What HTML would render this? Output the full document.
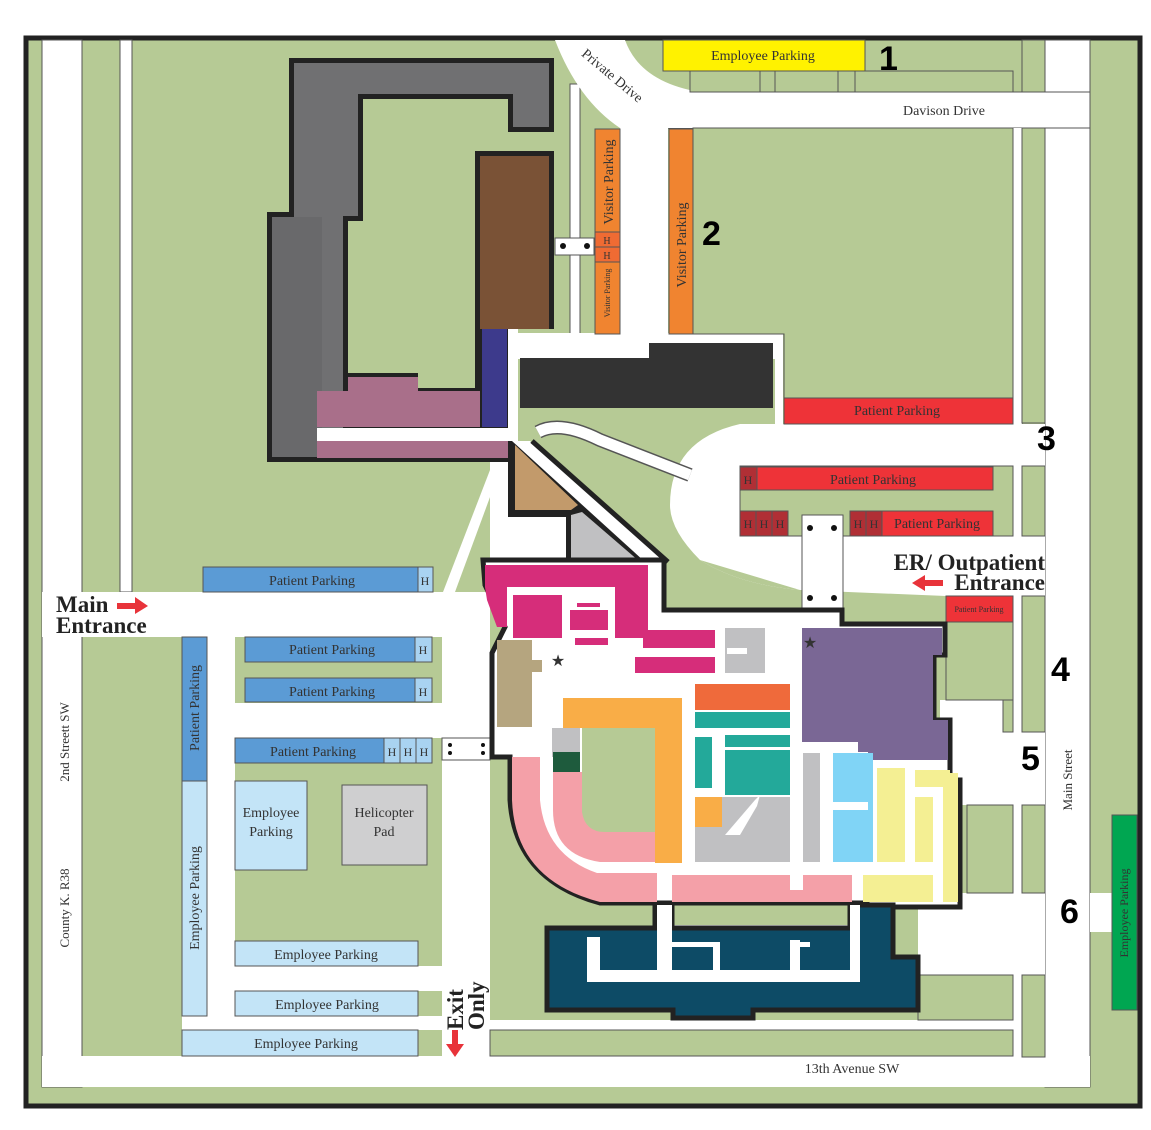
<!DOCTYPE html>
<html><head><meta charset="utf-8"><style>
html,body{margin:0;padding:0;background:#fff;}
svg{display:block;}
text{font-family:"Liberation Serif",serif;fill:#333;}
.n{font-family:"Liberation Sans",sans-serif;font-weight:bold;fill:#000;font-size:34px;}
.p{font-size:14px;text-anchor:middle;}
.b{font-weight:bold;font-size:23px;fill:#222;}
</style></head><body>
<svg width="1151" height="1130" viewBox="0 0 1151 1130" xmlns="http://www.w3.org/2000/svg">
<rect width="1151" height="1130" fill="#fff"/>
<rect x="26" y="38" width="1114" height="1068" fill="#b6ca95" stroke="#222" stroke-width="5"/>
<g fill="#fff" stroke="#555" stroke-width="1">
<rect x="42" y="40" width="40" height="1047"/>
<rect x="120" y="40" width="12" height="552"/>
<rect x="1045" y="40" width="45" height="1047"/>
<rect x="1013" y="128" width="9" height="930"/>
<rect x="640" y="92" width="450" height="36"/>
<rect x="570" y="84" width="10" height="252"/>
</g>
<g fill="#fff">
<rect x="42" y="592" width="448" height="45"/>
<rect x="207" y="637" width="28" height="393"/>
<rect x="235" y="703" width="207" height="35"/>
<rect x="235" y="966" width="207" height="25"/>
<rect x="182" y="1016" width="260" height="14"/>
<rect x="442" y="592" width="48" height="464"/>
<rect x="42" y="1056" width="1048" height="31"/>
<rect x="83" y="1057" width="1006" height="29"/>
<rect x="1013" y="128" width="9" height="930"/>
<rect x="518" y="333" width="265" height="26"/>
<rect x="775" y="343" width="8" height="81"/>
<rect x="940" y="700" width="105" height="105"/>
<rect x="918" y="893" width="127" height="82"/>
<rect x="1090" y="893" width="22" height="39"/>
<rect x="490" y="1020" width="523" height="10"/>
<path d="M555,40 L625,40 Q640,82 700,92 L700,128 L668,128 L668,336 L620,336 L620,128 Q578,100 555,40 Z"/>
<path d="M740,424 H1045 V466 H740 Z M740,536 H1045 V596 H946 L800,590 Q740,585 700,560 Q670,530 670,505 Q670,440 740,424 Z"/>
<path d="M490,441 H515 V590 H490 Z"/>
<path d="M490,470 L500,470 L455,592 L443,592 Z"/>
</g>
<path d="M538,432 Q560,420 600,440 L690,475" fill="none" stroke="#555" stroke-width="14"/>
<path d="M538,432 Q560,420 600,440 L690,475" fill="none" stroke="#fff" stroke-width="11"/>
<!-- green blocks -->
<g fill="#b6ca95" stroke="#555" stroke-width="1">
<path d="M693,128 H1013 V398 H784 V334 H693 Z"/>
<rect x="740" y="466" width="273" height="70"/>
<rect x="946" y="622" width="67" height="78"/>
<rect x="1003" y="700" width="10" height="32"/>
<rect x="967" y="805" width="46" height="88"/>
<rect x="1022" y="128" width="23" height="295"/>
<rect x="1022" y="466" width="23" height="70"/>
<rect x="1022" y="596" width="23" height="136"/>
<rect x="1022" y="805" width="23" height="88"/>
<rect x="1022" y="975" width="23" height="82"/>
<rect x="918" y="975" width="95" height="45"/>
<rect x="490" y="1030" width="523" height="26"/>
<rect x="690" y="71" width="70" height="21"/>
<rect x="775" y="71" width="63" height="21"/>
<rect x="855" y="71" width="158" height="21"/>
<rect x="1022" y="40" width="23" height="52"/>
</g>
<path d="M700,560 Q740,585 800,590 L946,598 L946,622 L945,624 H842 V610 H800 V590 Z" fill="#b6ca95"/>
<!-- top-left gray building -->
<path d="M289,58 H554 V132 H508 V99 H363 V221 H348 V373 H418 V388 H475 V151 H554 V329 H518 V441 H515 V462 H267 V212 H289 Z" fill="#222"/>
<path d="M294,63 H549 V127 H513 V94 H358 V216 H343 V457 H272 V217 H294 Z" fill="#707072"/>
<rect x="272" y="217" width="50" height="240" fill="#69696b"/>
<path d="M317,391 H348 V377 H418 V391 H480 V427 H317 Z" fill="#a96f8a"/>
<rect x="317" y="428" width="200" height="13" fill="#fff"/>
<rect x="317" y="441" width="198" height="17" fill="#a96f8a"/>
<rect x="480" y="156" width="69" height="173" fill="#7a5236"/>
<rect x="482" y="329" width="25" height="98" fill="#3d3a8c"/>
<rect x="508" y="329" width="10" height="112" fill="#fff"/>
<!-- black building -->
<path d="M520,358 H649 V343 H773 V408 H520 Z" fill="#333"/>
<!-- tan/gray triangles + diagonal road -->
<path d="M508,441 L515,441 L650,562 L508,562 Z" fill="#222"/>
<path d="M515,445 L578,505 L571,510 L515,510 Z" fill="#c29a6b"/>
<path d="M571,515 L582,512 L640,562 L571,562 Z" fill="#c0c0c2"/>
<rect x="513" y="517" width="53" height="45" fill="#fff"/>
<rect x="490" y="517" width="23" height="45" fill="#fff"/>
<path d="M512,441 L530,441 L666,562 L645,562 Z" fill="#fff"/>
<path d="M532,441 L668,562" stroke="#222" stroke-width="5" fill="none"/>
<!-- orange visitor -->
<rect x="595" y="129" width="25" height="205" fill="#f08430" stroke="#555"/>
<rect x="595" y="232" width="25" height="15" fill="#ef6b33" stroke="#555"/>
<rect x="595" y="247" width="25" height="15" fill="#ef6b33" stroke="#555"/>
<rect x="669" y="129" width="24" height="205" fill="#f08430" stroke="#555"/>
<rect x="555" y="238" width="39" height="17" fill="#fff" stroke="#555"/>
<circle cx="563" cy="246" r="3" fill="#111"/><circle cx="587" cy="246" r="3" fill="#111"/>
<rect x="663" y="40" width="202" height="31" fill="#fff200" stroke="#555"/>
<!-- right red parking -->
<g stroke="#555" stroke-width="1">
<rect x="784" y="398" width="229" height="26" fill="#ee3338"/>
<rect x="757" y="467" width="236" height="23" fill="#ee3338"/>
<rect x="740" y="467" width="17" height="23" fill="#b02f35"/>
<rect x="740" y="511" width="16" height="25" fill="#b02f35"/>
<rect x="756" y="511" width="16" height="25" fill="#b02f35"/>
<rect x="772" y="511" width="16" height="25" fill="#b02f35"/>
<rect x="850" y="511" width="16" height="25" fill="#b02f35"/>
<rect x="866" y="511" width="16" height="25" fill="#b02f35"/>
<rect x="882" y="511" width="111" height="25" fill="#ee3338"/>
<rect x="946" y="596" width="67" height="26" fill="#ee3338"/>
<rect x="802" y="515" width="41" height="93" fill="#fff"/>
<rect x="1112" y="815" width="25" height="195" fill="#00a651"/>
</g>
<circle cx="810" cy="528" r="3" fill="#111"/><circle cx="834" cy="528" r="3" fill="#111"/>
<circle cx="810" cy="598" r="3" fill="#111"/><circle cx="834" cy="598" r="3" fill="#111"/>
<!-- left parking -->
<g stroke="#555" stroke-width="1">
<rect x="203" y="567" width="215" height="25" fill="#5b9bd5"/>
<rect x="418" y="567" width="15" height="25" fill="#a9d3f1"/>
<rect x="245" y="637" width="170" height="25" fill="#5b9bd5"/>
<rect x="415" y="637" width="17" height="25" fill="#a9d3f1"/>
<rect x="245" y="678" width="170" height="24" fill="#5b9bd5"/>
<rect x="415" y="678" width="17" height="24" fill="#a9d3f1"/>
<rect x="235" y="738" width="149" height="25" fill="#5b9bd5"/>
<rect x="384" y="738" width="16" height="25" fill="#a9d3f1"/>
<rect x="400" y="738" width="16" height="25" fill="#a9d3f1"/>
<rect x="416" y="738" width="16" height="25" fill="#a9d3f1"/>
<rect x="182" y="637" width="25" height="144" fill="#5b9bd5"/>
<rect x="182" y="781" width="25" height="235" fill="#c3e4f7"/>
<rect x="235" y="781" width="72" height="89" fill="#c3e4f7"/>
<rect x="342" y="785" width="85" height="80" fill="#cfcfd0"/>
<rect x="235" y="941" width="183" height="25" fill="#c3e4f7"/>
<rect x="235" y="991" width="183" height="25" fill="#c3e4f7"/>
<rect x="182" y="1030" width="236" height="26" fill="#c3e4f7"/>
<rect x="442" y="738" width="48" height="22" fill="#fff"/>
</g>
<circle cx="450" cy="745" r="2" fill="#111"/><circle cx="450" cy="753" r="2" fill="#111"/>
<circle cx="483" cy="745" r="2" fill="#111"/><circle cx="483" cy="753" r="2" fill="#111"/>
<!-- main building -->
<rect x="655" y="900" width="212" height="30" fill="#fff"/>
<rect x="672" y="905" width="178" height="20" fill="#b6ca95"/>
<path d="M483,560 H664 V610 H842 V624 H945 V655 H934 V720 H950 V780 H960 V907 H867 V903 H657 V903 H600 Q515,880 510,800 V757 H492 V653 L505,627 L485,585 Z" fill="#fff" stroke="#222" stroke-width="5"/>
<path d="M547,928 H655 V905 H672 V928 H850 V905 H893 V957 H918 V1010 H753 V1018 H673 V1010 H547 Z" fill="#0d4b66" stroke="#222" stroke-width="5"/>
<g fill="#fff">
<rect x="587" y="970" width="273" height="12"/>
<rect x="587" y="937" width="13" height="45"/>
<rect x="657" y="905" width="15" height="65"/>
<rect x="850" y="905" width="10" height="70"/>
<rect x="713" y="942" width="7" height="28"/>
<rect x="672" y="942" width="41" height="5"/>
<rect x="790" y="940" width="10" height="30"/>
<rect x="790" y="942" width="20" height="5"/>
</g>
<g>
<rect x="485" y="565" width="163" height="22" fill="#d62d7a"/>
<path d="M485,587 H507 V627 L497,627 L487,600 Z" fill="#d62d7a"/>
<rect x="513" y="595" width="49" height="43" fill="#d62d7a"/>
<rect x="570" y="610" width="38" height="20" fill="#d62d7a"/>
<rect x="577" y="603" width="23" height="4" fill="#d62d7a"/>
<rect x="575" y="638" width="33" height="7" fill="#d62d7a"/>
<rect x="615" y="587" width="33" height="51" fill="#d62d7a"/>
<rect x="643" y="630" width="72" height="18" fill="#d62d7a"/>
<rect x="635" y="657" width="80" height="16" fill="#d62d7a"/>
<rect x="725" y="628" width="40" height="45" fill="#c0c0c2"/>
<rect x="727" y="648" width="20" height="6" fill="#fff"/>
<rect x="497" y="640" width="35" height="87" fill="#b5a57f"/>
<rect x="530" y="660" width="12" height="12" fill="#b5a57f"/>
<rect x="552" y="728" width="28" height="29" fill="#c0c0c2"/>
<rect x="553" y="752" width="27" height="20" fill="#1e5b3d"/>
<rect x="563" y="698" width="119" height="30" fill="#f9ad47"/>
<rect x="655" y="728" width="27" height="135" fill="#f9ad47"/>
<rect x="582" y="728" width="73" height="104" fill="#b6ca95"/>
<path d="M553,772 H582 V812 Q585,832 605,832 H655 V862 H600 Q553,855 553,810 Z" fill="#f4a0a8"/>
<path d="M512,757 H540 V800 Q545,855 597,873 H657 V902 H600 Q515,880 512,800 Z" fill="#f4a0a8"/>
<rect x="672" y="875" width="180" height="27" fill="#f4a0a8"/>
<rect x="790" y="875" width="13" height="15" fill="#fff"/>
<rect x="695" y="684" width="95" height="26" fill="#ef6a3b"/>
<rect x="695" y="712" width="95" height="16" fill="#23a99a"/>
<rect x="695" y="737" width="17" height="51" fill="#23a99a"/>
<rect x="725" y="735" width="65" height="12" fill="#23a99a"/>
<rect x="725" y="750" width="65" height="45" fill="#23a99a"/>
<rect x="695" y="797" width="95" height="65" fill="#c0c0c2"/>
<rect x="695" y="797" width="27" height="30" fill="#f9ad47"/>
<path d="M725,835 L755,800 L760,795 L757,806 L740,835 Z" fill="#fff"/>
<rect x="803" y="753" width="17" height="109" fill="#c0c0c2"/>
<path d="M802,628 H942 V655 H933 V720 H948 V760 H868 V752 H858 V742 H802 Z" fill="#7a6795"/>
<rect x="833" y="753" width="40" height="109" fill="#80d4f6"/>
<rect x="833" y="802" width="35" height="8" fill="#fff"/>
<rect x="877" y="768" width="28" height="94" fill="#f4ef93"/>
<rect x="915" y="770" width="35" height="17" fill="#f4ef93"/>
<rect x="915" y="797" width="18" height="65" fill="#f4ef93"/>
<rect x="943" y="773" width="15" height="129" fill="#f4ef93"/>
<rect x="863" y="875" width="70" height="27" fill="#f4ef93"/>
</g>
<text x="558" y="666" font-size="16" fill="#111" text-anchor="middle">★</text>
<text x="810" y="648" font-size="16" fill="#111" text-anchor="middle">★</text>
<!-- labels -->
<text class="p" x="763" y="60">Employee Parking</text>
<text x="944" y="115" font-size="14" text-anchor="middle">Davison Drive</text>
<text x="612" y="80" font-size="14" text-anchor="middle" transform="rotate(40 612 76)">Private Drive</text>
<text class="p" x="0" y="0" transform="translate(686 245) rotate(-90)">Visitor Parking</text>
<text class="p" x="0" y="0" font-size="13" transform="translate(613 182) rotate(-90)">Visitor Parking</text>
<text x="0" y="0" font-size="8" text-anchor="middle" transform="translate(610 293) rotate(-90)">Visitor Parking</text>
<text x="607" y="244" font-size="10" text-anchor="middle">H</text>
<text x="607" y="259" font-size="10" text-anchor="middle">H</text>
<text class="p" x="897" y="415">Patient Parking</text>
<text class="p" x="873" y="484">Patient Parking</text>
<text x="748" y="484" font-size="12" text-anchor="middle">H</text>
<text x="748" y="528" font-size="12" text-anchor="middle">H</text>
<text x="764" y="528" font-size="12" text-anchor="middle">H</text>
<text x="780" y="528" font-size="12" text-anchor="middle">H</text>
<text x="858" y="528" font-size="12" text-anchor="middle">H</text>
<text x="874" y="528" font-size="12" text-anchor="middle">H</text>
<text class="p" x="937" y="528">Patient Parking</text>
<text x="979" y="612" font-size="8" text-anchor="middle">Patient Parking</text>
<text class="b" x="1045" y="570" text-anchor="end">ER/ Outpatient</text>
<text class="b" x="1045" y="590" text-anchor="end">Entrance</text>
<path d="M943,580 H925 V575 L912,583 L925,591 V586 H943 Z" fill="#e8333a"/>
<text x="0" y="0" font-size="13" text-anchor="middle" transform="translate(1072 780) rotate(-90)">Main Street</text>
<text x="0" y="0" font-size="12" text-anchor="middle" fill="#444" transform="translate(1128 913) rotate(-90)">Employee Parking</text>
<text x="852" y="1073" font-size="14" text-anchor="middle">13th Avenue SW</text>
<text x="0" y="0" font-size="13" text-anchor="middle" transform="translate(69 742) rotate(-90)">2nd Streett SW</text>
<text x="0" y="0" font-size="13" text-anchor="middle" transform="translate(69 908) rotate(-90)">County K. R38</text>
<text class="p" x="312" y="585">Patient Parking</text>
<text x="425" y="585" font-size="12" text-anchor="middle">H</text>
<text class="p" x="332" y="654">Patient Parking</text>
<text x="423" y="654" font-size="12" text-anchor="middle">H</text>
<text class="p" x="332" y="696">Patient Parking</text>
<text x="423" y="696" font-size="12" text-anchor="middle">H</text>
<text class="p" x="313" y="756">Patient Parking</text>
<text x="392" y="756" font-size="12" text-anchor="middle">H</text>
<text x="408" y="756" font-size="12" text-anchor="middle">H</text>
<text x="424" y="756" font-size="12" text-anchor="middle">H</text>
<text class="p" x="0" y="0" transform="translate(199 708) rotate(-90)">Patient Parking</text>
<text class="p" x="0" y="0" transform="translate(199 898) rotate(-90)">Employee Parking</text>
<text class="p" x="271" y="817">Employee</text>
<text class="p" x="271" y="836">Parking</text>
<text class="p" x="384" y="817">Helicopter</text>
<text class="p" x="384" y="836">Pad</text>
<text class="p" x="326" y="959">Employee Parking</text>
<text class="p" x="327" y="1009">Employee Parking</text>
<text class="p" x="306" y="1048">Employee Parking</text>
<text class="b" x="56" y="612">Main</text>
<text class="b" x="56" y="633">Entrance</text>
<path d="M117,603 H135 V597 L148,606 L135,614 V609 H117 Z" fill="#e8333a"/>
<text class="b" x="0" y="0" transform="translate(463 1030) rotate(-90)">Exit</text>
<text class="b" x="0" y="0" transform="translate(484 1030) rotate(-90)">Only</text>
<path d="M452,1030 V1044 H446 L455,1057 L464,1044 H458 V1030 Z" fill="#e8333a"/>
<text class="n" x="879" y="70">1</text>
<text class="n" x="702" y="245">2</text>
<text class="n" x="1037" y="450">3</text>
<text class="n" x="1051" y="681">4</text>
<text class="n" x="1021" y="770">5</text>
<text class="n" x="1060" y="923">6</text>
</svg>
</body></html>
